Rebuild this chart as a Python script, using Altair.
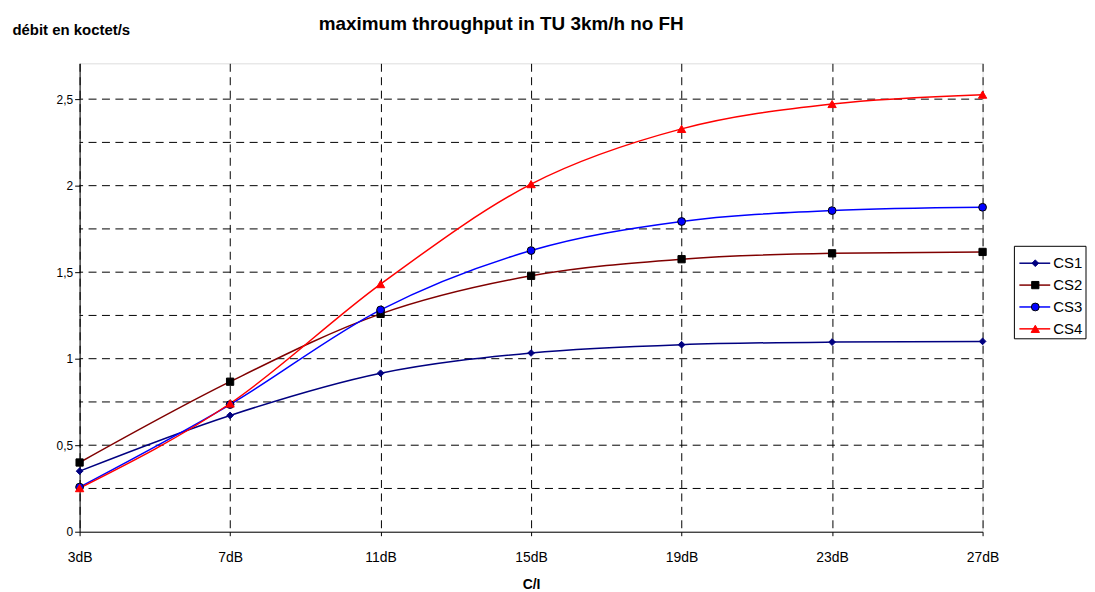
import altair as alt
import pandas as pd

categories = ["3dB", "7dB", "11dB", "15dB", "19dB", "23dB", "27dB"]
series = ["CS1", "CS2", "CS3", "CS4"]
cs1 = [0.35, 0.672, 0.916, 1.033, 1.081, 1.096, 1.100]
cs2 = [0.40, 0.867, 1.259, 1.479, 1.575, 1.609, 1.617]
cs3 = [0.258, 0.735, 1.282, 1.625, 1.793, 1.856, 1.875]
cs4 = [0.252, 0.741, 1.431, 2.009, 2.328, 2.472, 2.526]
y_labels = [0, 0.5, 1, 1.5, 2, 2.5]
y_grid = [0.25, 0.5, 0.75, 1, 1.25, 1.5, 1.75, 2, 2.25, 2.5]

line_colors = ["#000080", "#800000", "#0000FF", "#FF0000"]
fill_colors = ["#000080", "#000000", "#0000FF", "#FF0000"]
stroke_colors = ["#000080", "#000000", "#000000", "#FF0000"]
shapes = ["diamond", "square", "circle", "triangle-up"]
sizes = [45, 70, 55, 75]

rows = []
for name, vals in zip(series, [cs1, cs2, cs3, cs4]):
    for c, v in zip(categories, vals):
        rows.append({"cond": c, "series": name, "value": v})
df = pd.DataFrame(rows)
grid_df = pd.DataFrame({"g": y_grid})
leg_df = pd.DataFrame({"series": series, "rank": list(range(len(series)))})
one = pd.DataFrame({"a": [0]})

FONT = "Liberation Sans"
DASH = [8, 5.5]

xscale = alt.Scale(type="point", padding=0)
xenc = alt.X(
    "cond:N", sort=categories, scale=xscale,
    axis=alt.Axis(
        title="C/I", labelAngle=0, grid=True, gridDash=DASH, gridColor="#000000",
        gridOpacity=1, tickSize=4, tickColor="#000000", domainColor="#000000",
        labelPadding=15, labelFontSize=14, labelColor="#000000", labelFont=FONT,
        titleFont=FONT, titleFontSize=14, titleFontWeight="bold", titleColor="#000000",
        titleBaseline="alphabetic", titleY=57,
    ),
)
yscale = alt.Scale(domain=[0, 2.707], nice=False, zero=True)
yenc = alt.Y(
    "value:Q", scale=yscale,
    axis=alt.Axis(
        title="débit en koctet/s", values=y_labels,
        labelExpr="replace(toString(datum.value), '.', ',')",
        grid=False, tickSize=5, tickColor="#000000", domainColor="#000000",
        labelPadding=2, labelFontSize=12, labelColor="#000000", labelFont=FONT,
        titleFont=FONT, titleFontSize=15, titleFontWeight="bold", titleColor="#000000",
        titleAngle=0, titleAlign="left", titleBaseline="alphabetic",
        titleX=-68, titleY=-29,
    ),
)

grid = alt.Chart(grid_df).mark_rule(strokeDash=DASH, color="#000000", strokeWidth=1).encode(
    y=alt.Y("g:Q", scale=yscale, axis=None)
)

lines = alt.Chart(df).mark_line(interpolate="monotone", strokeWidth=1.5).encode(
    x=xenc, y=yenc,
    color=alt.Color("series:N", scale=alt.Scale(domain=series, range=line_colors), legend=None),
)

pts = alt.Chart(df).mark_point(filled=True, strokeWidth=1, opacity=1).encode(
    x=alt.X("cond:N", sort=categories, scale=xscale),
    y=alt.Y("value:Q", scale=yscale, axis=None),
    fill=alt.Fill("series:N", scale=alt.Scale(domain=series, range=fill_colors), legend=None),
    stroke=alt.Stroke("series:N", scale=alt.Scale(domain=series, range=stroke_colors), legend=None),
    shape=alt.Shape("series:N", scale=alt.Scale(domain=series, range=shapes), legend=None),
    size=alt.Size("series:N", scale=alt.Scale(domain=series, range=sizes), legend=None),
)

title = alt.Chart(one).mark_text(
    text="maximum throughput in TU 3km/h no FH", font=FONT, fontSize=19,
    fontWeight="bold", color="#000000", align="center", baseline="alphabetic",
).encode(x=alt.value(424), y=alt.value(-34))

# legend
lscale = alt.Scale(domain=[0, 3], range=[201, 267])
leg_box = alt.Chart(one).mark_rect(fill="white", stroke="#000000", strokeWidth=1).encode(
    x=alt.value(940), x2=alt.value(1012), y=alt.value(184), y2=alt.value(277)
)
leg_lines = alt.Chart(leg_df).mark_rule(strokeWidth=1.5).encode(
    x=alt.value(945), x2=alt.value(976),
    y=alt.Y("rank:Q", scale=lscale, axis=None),
    color=alt.Color("series:N", scale=alt.Scale(domain=series, range=line_colors), legend=None),
)
leg_pts = alt.Chart(leg_df).mark_point(filled=True, strokeWidth=1, opacity=1).encode(
    x=alt.value(961),
    y=alt.Y("rank:Q", scale=lscale, axis=None),
    fill=alt.Fill("series:N", scale=alt.Scale(domain=series, range=fill_colors), legend=None),
    stroke=alt.Stroke("series:N", scale=alt.Scale(domain=series, range=stroke_colors), legend=None),
    shape=alt.Shape("series:N", scale=alt.Scale(domain=series, range=shapes), legend=None),
    size=alt.Size("series:N", scale=alt.Scale(domain=series, range=sizes), legend=None),
)
leg_text = alt.Chart(leg_df).mark_text(
    align="left", baseline="middle", font=FONT, fontSize=15, color="#000000"
).encode(
    x=alt.value(979),
    y=alt.Y("rank:Q", scale=lscale, axis=None),
    text="series:N",
)
legend = alt.layer(leg_box, leg_lines, leg_pts, leg_text)

chart = (
    alt.layer(grid, lines, pts, title, legend)
    .resolve_scale(y="independent", x="shared")
    .properties(
        width=908, height=471,
        autosize=alt.AutoSizeParams(type="none"),
        padding={"left": 72, "top": 54, "right": 105, "bottom": 62},
    )
    .configure_view(stroke="#000000", strokeWidth=1)
    .configure(background="white")
)

chart.save("out.html", embed_options={"renderer": "svg", "actions": False})
